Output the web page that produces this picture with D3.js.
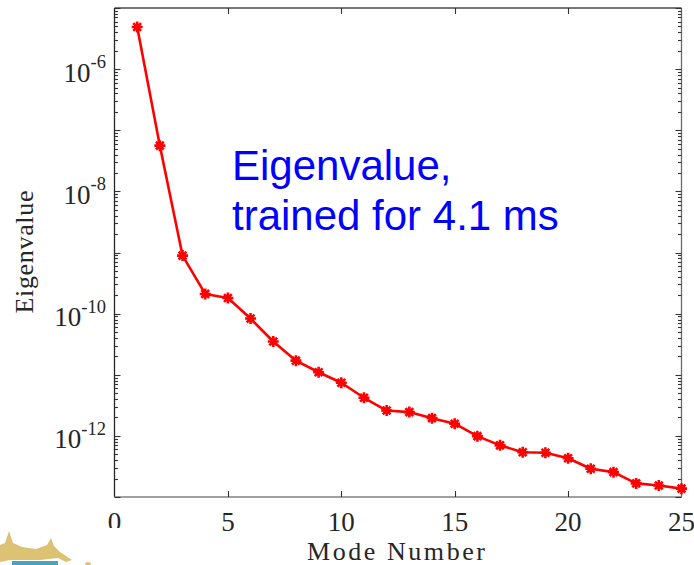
<!DOCTYPE html>
<html>
<head>
<meta charset="utf-8">
<script src="https://cdn.jsdelivr.net/npm/d3@7"></script>
<style>
  body { margin: 0; background: #fff; }
  svg { display: block; }
</style>
</head>
<body>
<svg id="chart" width="694" height="565"></svg>
<script>
// mode numbers and eigenvalues
const modes = [1, 2, 3, 4, 5, 6, 7, 8, 9, 10, 11, 12, 13, 14, 15, 16, 17, 18, 19, 20, 21, 22, 23, 24, 25]
const eigenvalues = [
  4.9e-6, 5.6e-8, 8.9e-10, 2.1e-10, 1.8e-10, 8.3e-11, 3.5e-11, 1.7e-11, 1.1e-11, 7.4e-12,
  4.2e-12, 2.6e-12, 2.45e-12, 1.95e-12, 1.58e-12, 9.9e-13, 7.0e-13, 5.4e-13, 5.3e-13, 4.3e-13,
  2.9e-13, 2.55e-13, 1.67e-13, 1.54e-13, 1.37e-13
]
const xTicks = [0, 5, 10, 15, 20, 25]
const yLabelExps = [-12, -10, -8, -6]

const svg = d3.select('#chart')
const margin = { top: 8, right: 12.5, bottom: 68, left: 114.5 }
const width = 694, height = 565

let x = d3.scaleLinear().domain([0, 25]).range([margin.left, width - margin.right])
let y = d3.scaleLog().domain([1e-13, 1e-5]).range([height - margin.bottom, margin.top])

let x0 = x.range()[0], x1 = x.range()[1]
let y0 = y.range()[0], y1 = y.range()[1]

// box
svg.append('line').attr('x1', x0).attr('x2', x1).attr('y1', y1).attr('y2', y1)
  .attr('stroke', '#4a4a4a').attr('stroke-width', 1.3)
svg.append('line').attr('x1', x1).attr('x2', x1).attr('y1', y1).attr('y2', y0)
  .attr('stroke', '#6a6a6a').attr('stroke-width', 1.3)
svg.append('line').attr('x1', x0).attr('x2', x0).attr('y1', y1).attr('y2', y0)
  .attr('stroke', '#262626').attr('stroke-width', 1.3)
svg.append('line').attr('x1', x0).attr('x2', x1).attr('y1', y0).attr('y2', y0)
  .attr('stroke', '#808080').attr('stroke-width', 1.5)

// y ticks (log, inward, both sides)
let yTicks = y.ticks()
let isMajor = v => Math.abs(Math.log10(v) - Math.round(Math.log10(v))) < 1e-6
let tickG = svg.append('g').attr('stroke', '#333').attr('stroke-width', 1.1)
yTicks.forEach(v => {
  let len = isMajor(v) ? 6 : 3.5
  let py = Math.round(y(v)) + 0.5
  tickG.append('line').attr('x1', x0).attr('x2', x0 + len).attr('y1', py).attr('y2', py)
  tickG.append('line').attr('x1', x1).attr('x2', x1 - len).attr('y1', py).attr('y2', py)
})
// x ticks (inward, top and bottom)
xTicks.slice(1, -1).forEach(v => {
  let px = Math.round(x(v)) + 0.5
  tickG.append('line').attr('x1', px).attr('x2', px).attr('y1', y0).attr('y2', y0 - 6)
  tickG.append('line').attr('x1', px).attr('x2', px).attr('y1', y1).attr('y2', y1 + 6)
})

// y tick labels 10^n
let yLab = svg.append('g')
  .style('font-family', '"Liberation Serif", "Times New Roman", serif')
  .attr('fill', '#262626')
yLabelExps.forEach(e => {
  let t = yLab.append('text')
    .attr('x', 106)
    .attr('y', y(Math.pow(10, e)) + 12.5)
    .attr('text-anchor', 'end')
  t.append('tspan').style('font-size', '27px').text('10')
  t.append('tspan').style('font-size', '18.5px').attr('dy', -13.5).text(e)
})

// x tick labels
svg.append('g')
  .style('font-family', '"Liberation Serif", "Times New Roman", serif')
  .style('font-size', '27px')
  .attr('fill', '#262626')
  .selectAll('text')
  .data(xTicks)
  .enter()
  .append('text')
  .attr('x', d => x(d))
  .attr('y', 531)
  .attr('text-anchor', 'middle')
  .text(d => d)

// axis titles
svg.append('text')
  .attr('x', x(12.5) - 2)
  .attr('y', 560)
  .attr('text-anchor', 'middle')
  .attr('textLength', 178)
  .attr('lengthAdjust', 'spacing')
  .style('font-family', '"Liberation Serif", "Times New Roman", serif')
  .style('font-size', '26px')
  .attr('fill', '#262626')
  .text('Mode  Number')

svg.append('text')
  .attr('transform', 'translate(33,252) rotate(-90)')
  .attr('text-anchor', 'middle')
  .attr('textLength', 123)
  .attr('lengthAdjust', 'spacing')
  .style('font-family', '"Liberation Serif", "Times New Roman", serif')
  .style('font-size', '26px')
  .attr('fill', '#262626')
  .text('Eigenvalue')

// data line
let data = modes.map((m, i) => ({ m, v: eigenvalues[i] }))
let line = d3.line().x(d => x(d.m)).y(d => y(d.v))
svg.append('path')
  .datum(data)
  .attr('d', line)
  .attr('fill', 'none')
  .attr('stroke', '#ff0000')
  .attr('stroke-width', 2.6)
  .attr('stroke-linejoin', 'round')

// asterisk markers
let r = 5.5, q = r * 0.707
let star = `M${-r},0H${r}M0,${-r}V${r}M${-q},${-q}L${q},${q}M${-q},${q}L${q},${-q}`
svg.append('g')
  .selectAll('path')
  .data(data)
  .enter()
  .append('path')
  .attr('transform', d => `translate(${x(d.m)},${y(d.v)})`)
  .attr('d', star)
  .attr('fill', 'none')
  .attr('stroke', '#ff0000')
  .attr('stroke-width', 2.6)

// annotation
let note = svg.append('g')
  .style('font-family', '"Liberation Sans", Arial, sans-serif')
  .style('font-size', '42px')
  .attr('fill', '#0000ff')
note.append('text').attr('x', 232).attr('y', 180).text('Eigenvalue,')
note.append('text').attr('x', 232).attr('y', 230).text('trained for 4.1 ms')

// corner logo overlay
let logo = svg.append('g')
logo.append('rect').attr('x', 0).attr('y', 528).attr('width', 128).attr('height', 37).attr('fill', '#fff')
logo.append('path')
  .attr('d', 'M0,545 L5,543 L9,531 L13,543 L22,547 L36,549 L47,545 L51,538 L54,546 L60,552 L72,560 L66,562 L58,558 L40,560 L10,560 L0,562 Z')
  .attr('fill', '#dcc272')
logo.append('rect').attr('x', 12).attr('y', 561).attr('width', 46).attr('height', 4).attr('fill', '#4aa3b8')
logo.append('circle').attr('cx', 88).attr('cy', 565).attr('r', 3).attr('fill', '#dcc272')
</script>
</body>
</html>
